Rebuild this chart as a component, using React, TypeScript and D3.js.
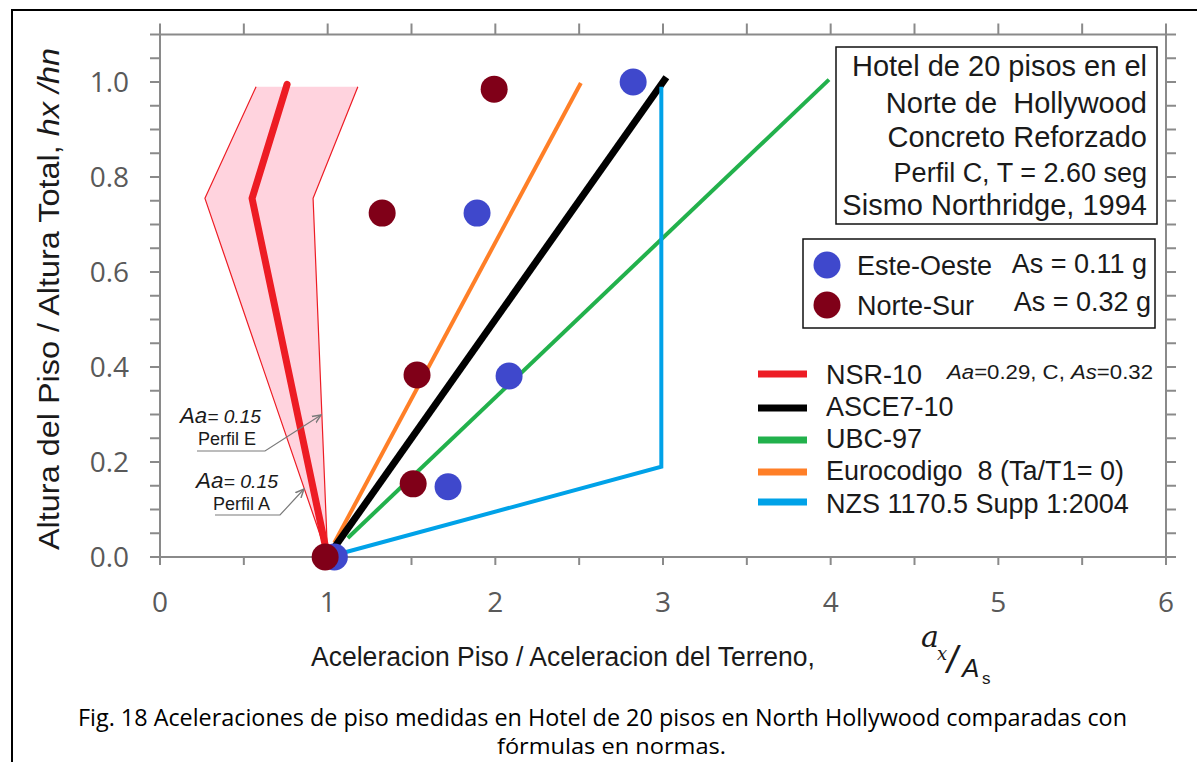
import React from 'react';
import * as d3 from 'd3';

// ---------- data ----------
const xTickLabels = [0, 1, 2, 3, 4, 5, 6];
const yTickLabels = [0, 0.2, 0.4, 0.6, 0.8, 1.0];

// NSR-10 (thick red) and its band limits (Perfil A left, Perfil E right)
const nsrX = [1.0, 0.549, 0.758];
const nsrY = [0.0, 0.755, 0.995];
const perfilAX = [1.0, 0.268, 0.573];
const perfilAY = [0.0, 0.755, 0.99];
const perfilEX = [1.0, 0.913, 1.18];
const perfilEY = [0.0, 0.755, 0.99];

// Code formulas
const asceX = [1.0, 3.02];
const asceY = [0.0, 1.01];
const euroX = [1.04, 2.51];
const euroY = [0.03, 0.998];
const ubcX = [1.12, 3.99];
const ubcY = [0.04, 1.005];
const nzsX = [1.0, 2.99, 2.99];
const nzsY = [0.0, 0.19, 0.99];

// Measured points
const ewX = [1.04, 1.718, 2.082, 1.891, 2.822];
const ewY = [0.0, 0.148, 0.381, 0.724, 1.0];
const nsX = [0.985, 1.51, 1.533, 1.325, 1.993];
const nsY = [0.0, 0.154, 0.383, 0.724, 0.985];

const infoLines = [
  'Hotel de 20 pisos en el',
  'Norte de  Hollywood',
  'Concreto Reforzado',
  'Perfil C, T = 2.60 seg',
  'Sismo Northridge, 1994',
];
const pointLegend = ['Este-Oeste', 'Norte-Sur'];
const pointLegendAs = ['As = 0.11 g', 'As = 0.32 g'];
const lineLegend = ['NSR-10', 'ASCE7-10', 'UBC-97', 'Eurocodigo  8 (Ta/T1= 0)', 'NZS 1170.5 Supp 1:2004'];

const C = {
  red: '#ED1C24',
  black: '#000000',
  green: '#22B14C',
  orange: '#FF7F27',
  blue: '#00A2E8',
  ew: '#3F48CC',
  ns: '#800018',
  band: '#FFD3DE',
  axis: '#8a8a8a',
  tick: '#595959',
  text: '#1a1a1a',
};
const lineColors = [C.red, C.black, C.green, C.orange, C.blue];

const ARIAL = '"Liberation Sans", Arial, sans-serif';
const CAL = '"Open Sans", "Noto Sans", sans-serif';

const zip = (xs: number[], ys: number[]): [number, number][] => xs.map((v, i) => [v, ys[i]]);

export default function App() {
  const x = d3.scaleLinear().domain([0, 6]).range([160, 1166]);
  const y = d3.scaleLinear().domain([0, 1.1]).range([557, 34.5]);
  const line = d3.line<[number, number]>().x(d => x(d[0])).y(d => y(d[1]));

  const bandPts = [...zip(perfilAX, perfilAY), ...zip(perfilEX, perfilEY).reverse()];
  const yMinor = d3.range(0, 1.1 + 1e-9, 0.05);
  const xMinor = d3.range(0, 6 + 1e-9, 0.5);

  const [xL, yT, xR, yB] = [x(0), y(1.1), x(6), y(0)];

  return (
    <svg width={1197} height={762} style={{ position: 'absolute', left: 0, top: 0, background: '#fff' }}>
      <rect x={0} y={0} width={1197} height={762} fill="#fff" />
      {/* outer frame */}
      <path d="M12,762 V10 H1197" fill="none" stroke="#000" strokeWidth={2} />

      {/* axes */}
      <g stroke={C.axis} strokeWidth={2}>
        <rect x={xL} y={yT} width={xR - xL} height={yB - yT} fill="none" />
        {yMinor.map((v, i) => (
          <g key={'ym' + i}>
            <line x1={xL - 10} x2={xL} y1={y(v)} y2={y(v)} />
            <line x1={xR} x2={xR + 10} y1={y(v)} y2={y(v)} />
          </g>
        ))}
        {xMinor.map((v, i) => (
          <g key={'xm' + i}>
            <line x1={x(v)} x2={x(v)} y1={yT - 11} y2={yT} />
            <line x1={x(v)} x2={x(v)} y1={yB} y2={yB + 8} />
          </g>
        ))}
      </g>
      {yTickLabels.map(v => (
        <text key={'yl' + v} x={129} y={y(v) + 10} textAnchor="end" fontFamily={CAL} fontSize={28} fill={C.tick}>
          {v.toFixed(1)}
        </text>
      ))}
      {xTickLabels.map(v => (
        <text key={'xl' + v} x={x(v)} y={612} textAnchor="middle" fontFamily={CAL} fontSize={28} fill={C.tick}>
          {v}
        </text>
      ))}

      {/* NSR band */}
      <path d={line(bandPts) + 'Z'} fill={C.band} stroke="none" />
      <path d={line(zip(perfilAX, perfilAY)) || ''} fill="none" stroke={C.red} strokeWidth={1.2} />
      <path d={line(zip(perfilEX, perfilEY)) || ''} fill="none" stroke={C.red} strokeWidth={1.2} />
      <path d={line(zip(nsrX, nsrY)) || ''} fill="none" stroke={C.red} strokeWidth={7} strokeLinecap="round" strokeLinejoin="round" />

      {/* code lines */}
      <path d={line(zip(euroX, euroY)) || ''} fill="none" stroke={C.orange} strokeWidth={4} />
      <path d={line(zip(asceX, asceY)) || ''} fill="none" stroke={C.black} strokeWidth={7} />
      <path d={line(zip(ubcX, ubcY)) || ''} fill="none" stroke={C.green} strokeWidth={4} />
      <path d={line(zip(nzsX, nzsY)) || ''} fill="none" stroke={C.blue} strokeWidth={4} strokeLinejoin="miter" />

      {/* points */}
      {ewX.map((v, i) => (
        <circle key={'ew' + i} cx={x(v)} cy={y(ewY[i])} r={13.5} fill={C.ew} />
      ))}
      {nsX.map((v, i) => (
        <circle key={'ns' + i} cx={x(v)} cy={y(nsY[i])} r={13.5} fill={C.ns} />
      ))}

      {/* Perfil annotations */}
      <defs>
        <marker id="arr" viewBox="0 0 10 10" refX={9} refY={5} markerWidth={8} markerHeight={8} orient="auto">
          <path d="M0,1 L9,5 L0,9" fill="none" stroke="#7a7a7a" strokeWidth={1.5} />
        </marker>
      </defs>
      <g fontFamily={ARIAL} fill={C.text}>
        <text x={180} y={423} fontStyle="italic" textLength={81} lengthAdjust="spacingAndGlyphs">
          <tspan fontSize={22}>Aa</tspan>
          <tspan fontSize={19}>= 0.15</tspan>
        </text>
        <text x={198} y={445} fontSize={18}>Perfil E</text>
        <text x={196} y={488} fontStyle="italic" textLength={82} lengthAdjust="spacingAndGlyphs">
          <tspan fontSize={22}>Aa</tspan>
          <tspan fontSize={19}>= 0.15</tspan>
        </text>
        <text x={213} y={510} fontSize={18}>Perfil A</text>
      </g>
      <polyline points="197,451 265,451 321,415" fill="none" stroke="#7a7a7a" strokeWidth={1.2} markerEnd="url(#arr)" />
      <polyline points="215,515 280,515 304,489" fill="none" stroke="#7a7a7a" strokeWidth={1.2} markerEnd="url(#arr)" />

      {/* info box */}
      <rect x={836} y={47} width={321} height={177} fill="#fff" stroke="#111" strokeWidth={1.5} />
      {infoLines.map((t, i) => (
        <text
          key={'info' + i}
          x={1147}
          y={[76, 113, 147, 182, 215][i]}
          textAnchor="end"
          fontFamily={ARIAL}
          fontSize={i === 3 ? 27 : 29}
          fill={C.text}
          style={{ whiteSpace: 'pre' }}
        >
          {t}
        </text>
      ))}

      {/* point legend */}
      <rect x={803} y={239} width={352} height={89} fill="#fff" stroke="#111" strokeWidth={1.5} />
      {pointLegend.map((t, i) => (
        <g key={'pl' + i}>
          <circle cx={827} cy={265 + i * 40} r={13.5} fill={i === 0 ? C.ew : C.ns} />
          <text x={857} y={275 + i * 40} fontFamily={ARIAL} fontSize={27} fill={C.text}>{t}</text>
          <text x={i === 0 ? 1147 : 1151} y={273 + i * 38} textAnchor="end" fontFamily={ARIAL} fontSize={27} fill={C.text}>
            {pointLegendAs[i]}
          </text>
        </g>
      ))}

      {/* line legend */}
      {lineLegend.map((t, i) => (
        <g key={'ll' + i}>
          <line x1={758} x2={807} y1={[374, 408, 440, 472, 502][i]} y2={[374, 408, 440, 472, 502][i]} stroke={lineColors[i]} strokeWidth={7} />
          <text x={826} y={[384, 416, 448, 480, 513][i]} fontFamily={ARIAL} fontSize={27} fill={C.text} style={{ whiteSpace: 'pre' }}>
            {t}
          </text>
        </g>
      ))}
      <text x={947} y={379} fontFamily={ARIAL} fontSize={20} fill={C.text} textLength={206} lengthAdjust="spacingAndGlyphs">
        <tspan fontStyle="italic">Aa</tspan>=0.29, C, <tspan fontStyle="italic">As</tspan>=0.32
      </text>

      {/* axis titles */}
      <text
        transform="translate(59,550) rotate(-90)"
        fontFamily={ARIAL}
        fontSize={30}
        fill={C.text}
        textLength={502}
        lengthAdjust="spacingAndGlyphs"
      >
        Altura del Piso / Altura Total, <tspan fontStyle="italic">hx /hn</tspan>
      </text>
      <text x={311} y={666} fontFamily={ARIAL} fontSize={27} fill={C.text} textLength={504} lengthAdjust="spacingAndGlyphs">
        Aceleracion Piso / Aceleracion del Terreno,
      </text>
      <g fill={C.text}>
        <text x={921} y={647} fontSize={30} fontStyle="italic" fontFamily='"DejaVu Serif", serif'>a</text>
        <text x={937} y={660} fontSize={18} fontStyle="italic" fontFamily='"DejaVu Serif", serif'>x</text>
        <text x={947} y={673} fontSize={38} fontStyle="italic" fontFamily={ARIAL}>/</text>
        <text x={962} y={677} fontSize={26} fontStyle="italic" fontFamily={ARIAL}>A</text>
        <text x={982} y={684} fontSize={17} fontFamily={ARIAL}>s</text>
      </g>

      {/* caption */}
      <text x={78} y={726} fontFamily={CAL} fontSize={23} fill="#000" textLength={1049} lengthAdjust="spacingAndGlyphs">
        Fig. 18 Aceleraciones de piso medidas en Hotel de 20 pisos en North Hollywood comparadas con
      </text>
      <text x={497} y={754} fontFamily={CAL} fontSize={22} fill="#000" textLength={229} lengthAdjust="spacingAndGlyphs">
        fórmulas en normas.
      </text>
    </svg>
  );
}
